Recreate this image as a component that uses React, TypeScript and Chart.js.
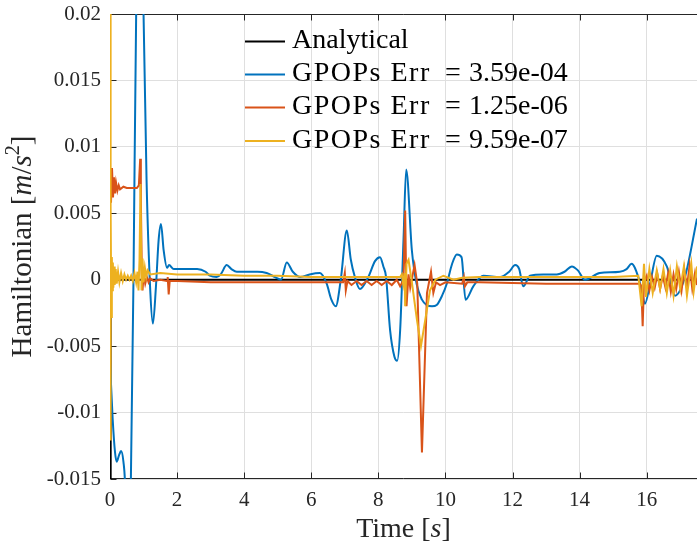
import React, { useEffect, useRef } from 'react';
import { Chart, registerables } from 'chart.js';

Chart.register(...registerables);

// ---------- axis ticks ----------
const xTickValues = [0, 2, 4, 6, 8, 10, 12, 14, 16];
const xTickLabels = ['0', '2', '4', '6', '8', '10', '12', '14', '16'];
const yTickValues = [-0.015, -0.01, -0.005, 0, 0.005, 0.01, 0.015, 0.02];
const yTickLabels = ['-0.015', '-0.01', '-0.005', '0', '0.005', '0.01', '0.015', '0.02'];

// ---------- series ----------
const seriesNames = [
  'Analytical',
  'GPOPs Err = 3.59e-04',
  'GPOPs Err = 1.25e-06',
  'GPOPs Err = 9.59e-07',
];

const analyticalT = [0, 0.02, 17.5];
const analyticalV = [-0.02, 0, 0];

const blueT = [0, 0.08, 0.15, 0.2, 0.27, 0.33, 0.4, 0.45, 0.53, 0.62, 0.7, 0.78, 0.88, 1.0, 1.09, 1.2, 1.28, 1.37, 1.45, 1.52, 1.6, 1.7, 1.76, 1.9, 2.2, 2.6, 2.85, 2.98, 3.18, 3.3, 3.48, 3.62, 3.78, 4.1, 4.4, 4.67, 4.92, 5.1, 5.27, 5.45, 5.67, 5.95, 6.26, 6.46, 6.6, 6.73, 6.88, 7.06, 7.18, 7.3, 7.45, 7.7, 7.9, 8.05, 8.15, 8.23, 8.35, 8.48, 8.56, 8.65, 8.75, 8.83, 9.0, 9.14, 9.3, 9.44, 9.6, 9.74, 9.9, 10.04, 10.2, 10.34, 10.48, 10.6, 10.83, 11.13, 11.63, 11.9, 12.08, 12.2, 12.32, 12.52, 12.92, 13.32, 13.55, 13.77, 13.95, 14.16, 14.6, 15.2, 15.4, 15.55, 15.75, 15.85, 15.95, 16.1, 16.3, 16.6, 16.85, 17.14, 17.5];
const blueV = [-0.0062, -0.0105, -0.013, -0.0137, -0.0132, -0.0129, -0.0137, -0.0155, -0.025, -0.0155, 0.0, 0.02, 0.028, 0.02, 0.0075, -0.0008, -0.0033, -0.0005, 0.003, 0.0042, 0.0022, 0.0009, 0.0011, 0.0008, 0.0008, 0.0008, 0.0006, 0.0003, 0.0002, 0.0004, 0.0011, 0.0008, 0.0006, 0.0006, 0.0006, 0.0005, 0.0002, 0.0, 0.0013, 0.0006, 0.0002, 0.0004, 0.0005, -0.0003, -0.0015, -0.002, 0.0, 0.0037, 0.0015, 0.0002, -0.0007, 0.0002, 0.0014, 0.0017, 0.001, 0.0002, -0.0038, -0.0058, -0.0061, -0.0038, 0.003, 0.0083, 0.0022, -0.0003, -0.0015, -0.0019, -0.002, -0.0019, -0.0012, -0.0003, 0.0012, 0.0019, 0.0017, -0.0015, -0.0005, 0.0003, 0.0002, 0.0006, 0.0011, 0.0008, -0.0005, 0.0003, 0.0004, 0.0004, 0.0006, 0.001, 0.0007, 0.0, 0.0005, 0.0006, 0.0008, 0.0012, 0.0002, -0.0008, -0.0018, -0.0003, 0.0018, 0.001, -0.0012, 0.0002, 0.0046];

const redT = [0, 0.03, 0.06, 0.09, 0.12, 0.15, 0.18, 0.22, 0.26, 0.3, 0.4, 0.5, 0.6, 0.7, 0.8, 0.86, 0.9, 0.92, 0.95, 0.97, 1.0, 1.05, 1.1, 1.15, 1.2, 1.3, 1.5, 1.7, 1.72, 1.75, 1.78, 2.0, 3.0, 4.0, 5.0, 6.0, 6.95, 7.0, 7.03, 7.08, 7.2, 7.35, 7.5, 7.65, 7.8, 7.95, 8.1, 8.25, 8.4, 8.55, 8.65, 8.75, 8.8, 8.84, 8.9, 8.95, 9.08, 9.16, 9.3, 9.45, 9.57, 9.64, 9.72, 9.84, 10.0, 10.5, 10.55, 10.58, 10.65, 11.0, 12.0, 13.0, 14.0, 15.0, 15.8, 15.84, 15.88, 15.92, 16.0, 16.08, 16.16, 16.24, 16.32, 16.4, 16.48, 16.56, 16.64, 16.72, 16.8, 16.88, 16.96, 17.04, 17.12, 17.2, 17.28, 17.36, 17.44, 17.5];
const redV = [0.0084, 0.0058, 0.0084, 0.0062, 0.0077, 0.0065, 0.0073, 0.0067, 0.0071, 0.0068, 0.007, 0.0069, 0.0069, 0.0069, 0.0069, 0.0071, 0.0091, 0.006, 0.0004, -0.0008, 0.0004, -0.0003, 0.0002, -0.0002, 0.0001, -0.0001, 0.0, -0.0001, 0.0002, -0.0011, -0.0001, -0.0001, -0.0002, -0.0002, -0.0002, -0.0002, -0.0002, 0.0005, -0.0008, -0.0001, -0.0004, -0.0001, -0.0004, -0.0001, -0.0004, -0.0001, -0.0004, -0.0001, -0.0004, 0.0, -0.0005, 0.0, 0.0052, -0.002, 0.0004, -0.0006, 0.0011, -0.0003, -0.013, -0.001, 0.0006, -0.001, -0.0002, -0.0004, -0.0002, -0.0003, 0.0002, -0.0005, -0.0002, -0.0002, -0.00025, -0.0003, -0.0003, -0.0003, -0.0003, -0.0005, -0.0035, -0.0002, 0.0003, -0.0008, 0.0002, -0.0006, 0.0004, -0.0007, 0.0003, -0.0006, 0.0005, -0.0009, 0.0004, -0.0007, 0.0006, -0.0008, 0.0008, -0.0006, 0.0011, -0.0007, 0.0005, -0.0004];

const yellowT = [0, 0.012, 0.025, 0.04, 0.055, 0.07, 0.085, 0.1, 0.12, 0.14, 0.17, 0.2, 0.24, 0.28, 0.33, 0.38, 0.43, 0.48, 0.53, 0.58, 0.63, 0.68, 0.73, 0.78, 0.82, 0.85, 0.88, 0.91, 0.94, 0.97, 1.0, 1.04, 1.08, 1.12, 1.2, 1.5, 2.0, 3.0, 4.0, 5.0, 6.0, 7.0, 8.0, 8.65, 8.7, 8.74, 8.78, 8.8, 8.84, 8.9, 9.0, 9.15, 9.27, 9.4, 9.54, 9.7, 9.94, 10.24, 10.5, 11.0, 12.0, 13.0, 14.0, 15.0, 15.75, 15.85, 15.92, 15.98, 16.08, 16.18, 16.3, 16.4, 16.5, 16.6, 16.7, 16.8, 16.9, 17.0, 17.11, 17.2, 17.33, 17.4, 17.5];
const yellowV = [0.022, -0.0121, 0.0055, -0.0028, 0.0017, -0.0008, 0.0013, -0.0006, 0.001, -0.0004, 0.0008, -0.0003, 0.0006, -0.0002, 0.0005, -0.0001, 0.0004, 0.0, 0.0003, 0.0, 0.0003, -0.0001, 0.0005, -0.0002, 0.0006, -0.0008, 0.0015, 0.0072, -0.0008, 0.0016, -0.0002, 0.0009, 0.0002, 0.0007, 0.0004, 0.0005, 0.0004, 0.0004, 0.0003, 0.0003, 0.0002, 0.0002, 0.0002, 0.0002, 0.0004, -0.0003, 0.0005, -0.002, 0.0012, 0.0015, -0.0002, -0.003, -0.005, -0.003, -0.0008, 0.0, 0.0003, 0.0, 0.00015, 0.0002, 0.0002, 0.0002, 0.0002, 0.0002, 0.0003, -0.002, 0.0012, -0.0013, 0.0008, -0.001, 0.0007, -0.0007, 0.0008, -0.001, 0.0007, -0.0012, 0.001, -0.0007, 0.001, -0.0012, 0.0012, -0.0009, 0.001];

const seriesColors = ['#000000', '#0072BD', '#D95319', '#EDB120'];

// ---------- styling ----------
const SERIF = '"Liberation Serif", "Times New Roman", serif';
const AXIS_COLOR = '#262626';
const GRID_COLOR = '#dfdfdf';

type Part = { t: string; it?: boolean; sup?: boolean };

function richFont(p: Part, size: number) {
  return `${p.it ? 'italic ' : ''}${p.sup ? Math.round(size * 0.7) : size}px ${SERIF}`;
}

function drawRichCentered(ctx: CanvasRenderingContext2D, parts: Part[], x: number, y: number, size: number) {
  const widths = parts.map((p) => {
    ctx.font = richFont(p, size);
    return ctx.measureText(p.t).width;
  });
  const total = widths.reduce((a, b) => a + b, 0);
  let cx = x - total / 2;
  ctx.textAlign = 'left';
  ctx.textBaseline = 'alphabetic';
  parts.forEach((p, i) => {
    ctx.font = richFont(p, size);
    ctx.fillText(p.t, cx, p.sup ? y - size * 0.4 : y);
    cx += widths[i];
  });
}

const framePlugin = {
  id: 'matlabFrame',
  beforeDatasetsDraw(chart: any) {
    const { ctx, chartArea: a, scales } = chart;
    const L = Math.round(a.left) + 0.5;
    const T = Math.round(a.top) + 0.5;
    const B = Math.round(a.bottom) - 0.5;
    const R = a.right;
    ctx.save();
    ctx.strokeStyle = AXIS_COLOR;
    ctx.lineWidth = 1;
    ctx.beginPath();
    ctx.moveTo(L, T);
    ctx.lineTo(R, T);
    ctx.moveTo(L, T);
    ctx.lineTo(L, B);
    ctx.lineTo(R, B);
    const tl = 6;
    xTickValues.forEach((v) => {
      const px = Math.round(scales.x.getPixelForValue(v)) + 0.5;
      ctx.moveTo(px, B);
      ctx.lineTo(px, B - tl);
      ctx.moveTo(px, T);
      ctx.lineTo(px, T + tl);
    });
    yTickValues.forEach((v) => {
      const py = Math.round(scales.y.getPixelForValue(v)) + 0.5;
      ctx.moveTo(L, py);
      ctx.lineTo(L + tl, py);
    });
    ctx.stroke();
    ctx.restore();
  },
  afterDraw(chart: any) {
    const { ctx, chartArea: a } = chart;
    ctx.save();
    // legend (inside the axes, no box)
    const lx0 = 245;
    const lx1 = 285;
    const tx = 292;
    const rows = [41.5, 74.5, 107.5, 141];
    seriesNames.forEach((name, i) => {
      const y = rows[i];
      ctx.strokeStyle = seriesColors[i];
      ctx.lineWidth = 2;
      ctx.beginPath();
      ctx.moveTo(lx0, y);
      ctx.lineTo(lx1, y);
      ctx.stroke();
      ctx.fillStyle = '#000000';
      ctx.font = `28px ${SERIF}`;
      ctx.textAlign = 'left';
      ctx.textBaseline = 'alphabetic';
      const base = y + 6.5;
      const eq = name.indexOf(' = ');
      if (eq < 0) {
        ctx.fillText(name, tx, base);
      } else {
        const left = name.slice(0, eq);
        const right = name.slice(eq + 3);
        (ctx as any).letterSpacing = '1.5px';
        ctx.fillText(left, tx, base);
        (ctx as any).letterSpacing = '0px';
        ctx.textAlign = 'center';
        ctx.fillText('=', tx + 161, base);
        ctx.textAlign = 'left';
        ctx.fillText(right, tx + 177, base);
      }
    });
    // axis titles
    ctx.fillStyle = AXIS_COLOR;
    const cx = (a.left + a.right) / 2;
    drawRichCentered(ctx, [{ t: 'Time [' }, { t: 's', it: true }, { t: ']' }], cx, 537, 28);
    ctx.save();
    ctx.translate(31, (a.top + a.bottom) / 2);
    ctx.rotate(-Math.PI / 2);
    drawRichCentered(
      ctx,
      [{ t: 'Hamiltonian [' }, { t: 'm', it: true }, { t: '/' }, { t: 's', it: true }, { t: '2', sup: true }, { t: ']' }],
      0,
      0,
      29
    );
    ctx.restore();
    ctx.restore();
  },
};

function toPoints(ts: number[], vs: number[]) {
  return ts.map((t, i) => ({ x: t, y: vs[i] }));
}

export default function App() {
  const ref = useRef<HTMLCanvasElement | null>(null);

  useEffect(() => {
    document.body.style.margin = '0';
    const canvas = ref.current;
    if (!canvas) return;
    const chart = new Chart(canvas, {
      type: 'line',
      data: {
        datasets: [
          { label: seriesNames[0], data: toPoints(analyticalT, analyticalV), borderColor: seriesColors[0], order: 3, tension: 0 },
          { label: seriesNames[1], data: toPoints(blueT, blueV), borderColor: seriesColors[1], order: 2, cubicInterpolationMode: 'monotone' },
          { label: seriesNames[2], data: toPoints(redT, redV), borderColor: seriesColors[2], order: 1, tension: 0 },
          { label: seriesNames[3], data: toPoints(yellowT, yellowV), borderColor: seriesColors[3], order: 0, tension: 0 },
        ] as any,
      },
      options: {
        responsive: false,
        animation: false,
        devicePixelRatio: 1,
        layout: { padding: { top: 14, left: 0, right: 0, bottom: 0 } },
        elements: { point: { radius: 0 }, line: { borderWidth: 2 } },
        plugins: { legend: { display: false }, tooltip: { enabled: false } },
        scales: {
          x: {
            type: 'linear',
            min: 0,
            max: 17.5,
            afterFit: (s: any) => {
              s.height = 69;
              s.paddingLeft = 0;
              s.paddingRight = 0;
            },
            afterBuildTicks: (s: any) => {
              s.ticks = xTickValues.map((v) => ({ value: v }));
            },
            ticks: {
              callback: (_v: any, i: number) => xTickLabels[i],
              font: { family: SERIF, size: 21 },
              color: AXIS_COLOR,
              padding: 9,
              maxRotation: 0,
              autoSkip: false,
            },
            grid: { color: GRID_COLOR, drawTicks: false },
            border: { display: false },
          },
          y: {
            type: 'linear',
            min: -0.015,
            max: 0.02,
            afterFit: (s: any) => {
              s.width = 110;
              s.paddingTop = 0;
              s.paddingBottom = 0;
            },
            afterBuildTicks: (s: any) => {
              s.ticks = yTickValues.map((v) => ({ value: v }));
            },
            ticks: {
              callback: (_v: any, i: number) => yTickLabels[i],
              font: { family: SERIF, size: 21 },
              color: AXIS_COLOR,
              padding: 9,
              autoSkip: false,
            },
            grid: { color: GRID_COLOR, drawTicks: false },
            border: { display: false },
          },
        },
      } as any,
      plugins: [framePlugin],
    });
    return () => chart.destroy();
  }, []);

  return (
    <div style={{ position: 'absolute', left: 0, top: 0, width: 697, height: 548, background: '#fff' }}>
      <canvas ref={ref} width={697} height={548} style={{ display: 'block', width: 697, height: 548 }} />
    </div>
  );
}
